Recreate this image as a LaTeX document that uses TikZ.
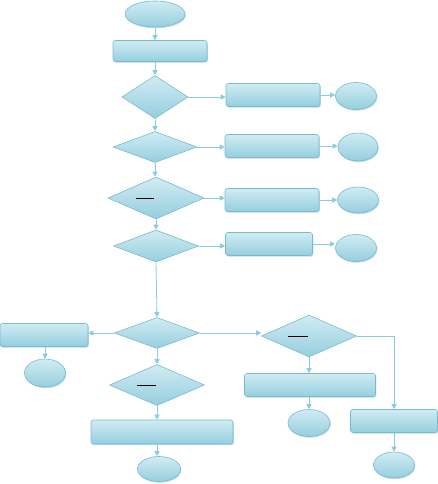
\documentclass[tikz,border=0pt]{standalone}
\usetikzlibrary{shapes.geometric,arrows.meta,shadows}
\definecolor{flowline}{RGB}{136,204,222}
\definecolor{flowedge}{RGB}{120,186,206}
\definecolor{flowlight}{RGB}{208,236,243}
\definecolor{flowdark}{RGB}{150,206,222}
\begin{document}
\begin{tikzpicture}[x=1pt,y=-1pt,
  box/.style={rectangle,rounded corners=2.5pt,draw=flowedge,line width=.6pt,
    top color=flowlight,bottom color=flowdark,inner sep=0pt,
    drop shadow={shadow xshift=.8pt,shadow yshift=-1.2pt,opacity=.5,fill=flowedge}},
  term/.style={ellipse,draw=flowedge,line width=.6pt,
    top color=flowlight,bottom color=flowdark,inner sep=0pt,
    drop shadow={shadow xshift=.8pt,shadow yshift=-1.2pt,opacity=.5,fill=flowedge}},
  test/.style={diamond,draw=flowedge,line width=.6pt,
    top color=flowlight,bottom color=flowdark,inner sep=0pt},
  flow/.style={draw=flowline,line width=.8pt,-{Triangle[length=5pt,width=5pt]}},
  bar/.style={black,line width=.9pt}]
\useasboundingbox (0,0) rectangle (438,484);

% main column
\node[term,minimum width=60,minimum height=26] (start) at (155,14) {};
\node[box,minimum width=94,minimum height=21] (init) at (160,51) {};
\node[test,minimum width=66,minimum height=43] (t1) at (155,97) {};
\node[test,minimum width=84,minimum height=31] (t2) at (155,147) {};
\node[test,minimum width=96,minimum height=42] (t3) at (156,198) {};
\node[test,minimum width=85,minimum height=32] (t4) at (156,246) {};
\node[test,minimum width=85,minimum height=31] (t5) at (157,333) {};
\node[test,minimum width=95,minimum height=41] (t7) at (157,385) {};
\node[box,minimum width=142,minimum height=24] (last) at (162,432) {};
\node[term,minimum width=43,minimum height=25] (endlast) at (159,469) {};

% branches on the right
\node[box,minimum width=94,minimum height=23] (a1) at (273,95) {};
\node[term,minimum width=41,minimum height=27] (e1) at (356,96) {};
\node[box,minimum width=94,minimum height=23] (a2) at (272,146) {};
\node[term,minimum width=40,minimum height=28] (e2) at (358,147) {};
\node[box,minimum width=94,minimum height=23] (a3) at (272,200) {};
\node[term,minimum width=41,minimum height=26] (e3) at (358,200) {};
\node[box,minimum width=87,minimum height=23] (a4) at (269,244) {};
\node[term,minimum width=41,minimum height=27] (e4) at (356,248) {};

% lower part
\node[box,minimum width=88,minimum height=23] (a5) at (44,335) {};
\node[term,minimum width=41,minimum height=28] (e5) at (45,373) {};
\node[test,minimum width=95,minimum height=42] (t6) at (309,336) {};
\node[box,minimum width=131,minimum height=23] (a6) at (310,385) {};
\node[term,minimum width=42,minimum height=27] (e6) at (309,423) {};
\node[box,minimum width=87,minimum height=23] (a7) at (394,421) {};
\node[term,minimum width=41,minimum height=26] (e7) at (394,465) {};

% bars
\draw[bar] ([xshift=-20]t3.center) -- ([xshift=-2]t3.center);
\draw[bar] ([xshift=-21]t6.center) -- ([xshift=-1]t6.center);
\draw[bar] ([xshift=-20]t7.center) -- ([xshift=-1]t7.center);

\draw[flow] (start.south) -- (start.south |- init.north);
\draw[flow] (t1.north |- init.south) -- (t1.north);
\draw[flow] (t1.south) -- (t2.north);
\draw[flow] (t2.south) -- (t2.south |- t3.north);
\draw[flow] (t3.south) -- (t3.south |- t4.north);
\draw[flow] (t4.south) -- (t5.north);
\draw[flow] (t5.south) -- (t7.north);
\draw[flow] (t7.south) -- (t7.south |- last.north);
\draw[flow] (t7.south |- last.south) -- (t7.south |- endlast.north);

\draw[flow] (t1.east) -- (t1.east -| a1.west);
\draw[flow] (a1.east) -- (a1.east -| e1.west);
\draw[flow] (t2.east) -- (t2.east -| a2.west);
\draw[flow] (a2.east) -- (a2.east -| e2.west);
\draw[flow] (t3.east) -- (t3.east -| a3.west);
\draw[flow] (a3.east) -- (a3.east -| e3.west);
\draw[flow] (t4.east) -- (t4.east -| a4.west);
\draw[flow] (a4.east) -- (a4.east -| e4.west);

\draw[flow] (t5.west) -- (t5.west -| a5.east);
\draw[flow] (e5.north |- a5.south) -- (e5.north);
\draw[flow] (t5.east) -- (t5.east -| t6.west);
\draw[flow] (t6.south) -- (t6.south |- a6.north);
\draw[flow] (t6.south |- a6.south) -- (e6.north);
\draw[flow] (t6.east) -| (a7.north);
\draw[flow] (a7.south) -- (e7.north);
\end{tikzpicture}
\end{document}
